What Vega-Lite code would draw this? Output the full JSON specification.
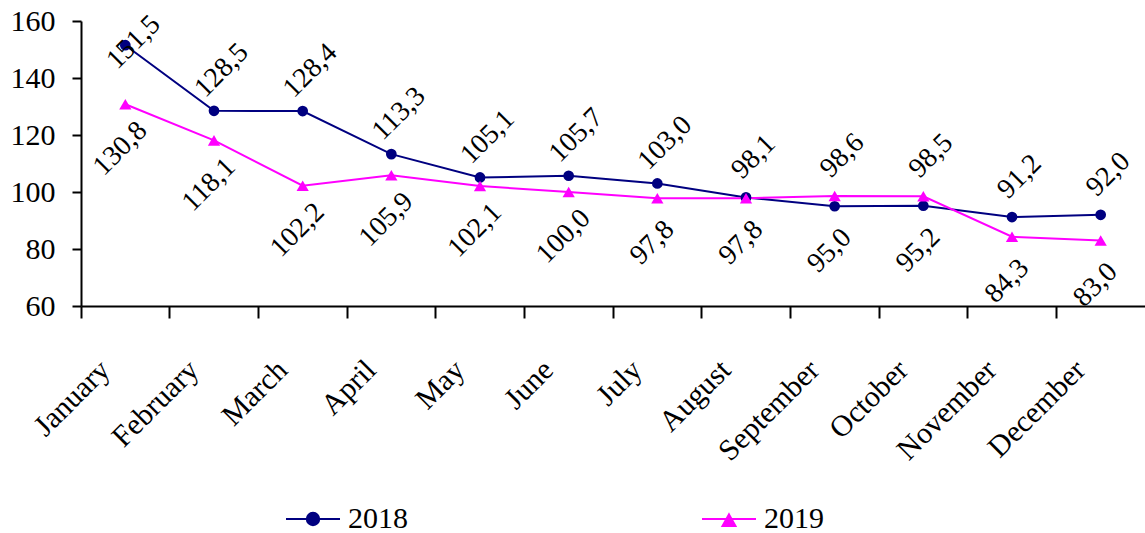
{
  "$schema": "https://vega.github.io/schema/vega-lite/v6.json",
  "width": 1064,
  "height": 285,
  "autosize": {"type": "none"},
  "padding": {"left": 81, "top": 21, "right": 0, "bottom": 227},
  "background": "white",
  "config": {
    "view": {"stroke": null},
    "font": "Liberation Serif",
    "locale": {"number": {"decimal": ",", "thousands": " ", "grouping": [3], "currency": ["", ""]}}
  },
  "data": {
    "values": [
      {"month": "January", "year": "2018", "value": 151.5},
      {"month": "February", "year": "2018", "value": 128.5},
      {"month": "March", "year": "2018", "value": 128.4},
      {"month": "April", "year": "2018", "value": 113.3},
      {"month": "May", "year": "2018", "value": 105.1},
      {"month": "June", "year": "2018", "value": 105.7},
      {"month": "July", "year": "2018", "value": 103.0},
      {"month": "August", "year": "2018", "value": 98.1},
      {"month": "September", "year": "2018", "value": 95.0},
      {"month": "October", "year": "2018", "value": 95.2},
      {"month": "November", "year": "2018", "value": 91.2},
      {"month": "December", "year": "2018", "value": 92.0},
      {"month": "January", "year": "2019", "value": 130.8},
      {"month": "February", "year": "2019", "value": 118.1},
      {"month": "March", "year": "2019", "value": 102.2},
      {"month": "April", "year": "2019", "value": 105.9},
      {"month": "May", "year": "2019", "value": 102.1},
      {"month": "June", "year": "2019", "value": 100.0},
      {"month": "July", "year": "2019", "value": 97.8},
      {"month": "August", "year": "2019", "value": 97.8},
      {"month": "September", "year": "2019", "value": 98.6},
      {"month": "October", "year": "2019", "value": 98.5},
      {"month": "November", "year": "2019", "value": 84.3},
      {"month": "December", "year": "2019", "value": 83.0}
    ]
  },
  "encoding": {
    "x": {
      "field": "month",
      "type": "ordinal",
      "sort": ["January", "February", "March", "April", "May", "June", "July", "August", "September", "October", "November", "December"],
      "scale": {"type": "band", "paddingInner": 0, "paddingOuter": 0},
      "axis": {
        "title": null,
        "labelAngle": -45,
        "labelAlign": "right",
        "labelBaseline": "middle",
        "labelOffset": -20,
        "labelPadding": 47,
        "labelFont": "Liberation Serif",
        "labelFontSize": 30,
        "labelColor": "black",
        "tickSize": 12,
        "tickWidth": 2,
        "tickColor": "black",
        "domainColor": "black",
        "domainWidth": 2,
        "bandPosition": 0,
        "grid": false
      }
    },
    "y": {
      "field": "value",
      "type": "quantitative",
      "scale": {"domain": [60, 160], "nice": false, "zero": false},
      "axis": {
        "title": null,
        "values": [60, 80, 100, 120, 140, 160],
        "grid": false,
        "labelFont": "Liberation Serif",
        "labelFontSize": 30,
        "labelColor": "black",
        "labelPadding": 17,
        "labelFlush": false,
        "labelOverlap": false,
        "tickSize": 9,
        "tickWidth": 2,
        "tickColor": "black",
        "domainColor": "black",
        "domainWidth": 2
      }
    },
    "color": {
      "field": "year",
      "type": "nominal",
      "scale": {"domain": ["2018", "2019"], "range": ["#000080", "#FF00FF"]},
      "legend": {
        "orient": "none",
        "legendX": 204,
        "legendY": 470,
        "direction": "horizontal",
        "columns": 2,
        "columnPadding": 290,
        "title": null,
        "padding": 0,
        "labelFont": "Liberation Serif",
        "labelFontSize": 30,
        "labelColor": "black",
        "labelOffset": 7,
        "symbolSize": 2916,
        "symbolStrokeWidth": 2,
        "symbolOpacity": 1,
        "encode": {
          "symbols": {
            "update": {
              "shape": {"signal": "datum.value === '2018' ? 'M-1,0L1,0M-0.23,0A0.23,0.23 0 1,0 0.23,0A0.23,0.23 0 1,0 -0.23,0Z' : 'M-1,0L1,0M0,-0.17L0.24,0.26L-0.24,0.26Z'"},
              "fill": {"signal": "datum.value === '2018' ? '#000080' : '#FF00FF'"},
              "stroke": {"signal": "datum.value === '2018' ? '#000080' : '#FF00FF'"},
              "strokeWidth": {"value": 2},
              "opacity": {"value": 1}
            }
          }
        }
      }
    }
  },
  "layer": [
    {"mark": {"type": "line", "strokeWidth": 2}},
    {
      "mark": {"type": "point", "filled": true, "opacity": 1},
      "encoding": {
        "shape": {"condition": {"test": "datum.year == '2018'", "value": "circle"}, "value": "triangle-up"},
        "size": {"condition": {"test": "datum.year == '2018'", "value": 115}, "value": 150}
      }
    },
    {
      "transform": [
        {"joinaggregate": [{"op": "max", "field": "value", "as": "monthMax"}], "groupby": ["month"]},
        {"filter": "datum.value >= datum.monthMax && !(datum.year == '2018' && datum.month == 'January')"}
      ],
      "mark": {"type": "text", "angle": -45, "dx": 34, "dy": -23, "fontSize": 28, "font": "Liberation Serif", "align": "center", "baseline": "middle"},
      "encoding": {
        "text": {"field": "value", "type": "quantitative", "format": ".1f"},
        "color": {"value": "black"}
      }
    },
    {
      "transform": [{"filter": "datum.year == '2018' && datum.month == 'January'"}],
      "mark": {"type": "text", "angle": -45, "dx": 8, "dy": 4, "fontSize": 28, "font": "Liberation Serif", "align": "center", "baseline": "middle"},
      "encoding": {
        "text": {"field": "value", "type": "quantitative", "format": ".1f"},
        "color": {"value": "black"}
      }
    },
    {
      "transform": [
        {"joinaggregate": [{"op": "max", "field": "value", "as": "monthMax"}], "groupby": ["month"]},
        {"filter": "datum.value < datum.monthMax"}
      ],
      "mark": {"type": "text", "angle": -45, "dx": -35, "dy": 28, "fontSize": 28, "font": "Liberation Serif", "align": "center", "baseline": "middle"},
      "encoding": {
        "text": {"field": "value", "type": "quantitative", "format": ".1f"},
        "color": {"value": "black"}
      }
    }
  ]
}
